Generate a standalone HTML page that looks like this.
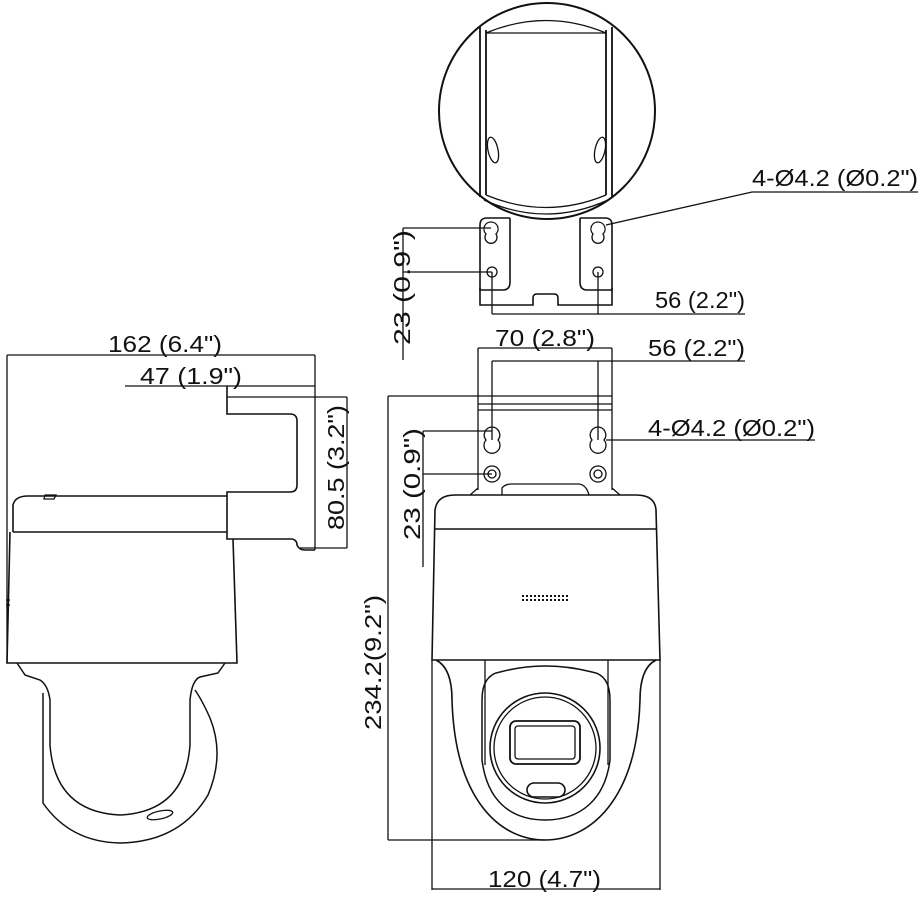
<!DOCTYPE html>
<html><head><meta charset="utf-8"><style>
html,body{margin:0;padding:0;background:#fff;}
svg{display:block;}
text{font-family:"Liberation Sans",sans-serif;font-size:23px;fill:#111;}
</style></head><body>
<svg width="920" height="904" viewBox="0 0 920 904" xmlns="http://www.w3.org/2000/svg">
<g fill="none" stroke="#111" stroke-width="1.3">
<!-- TOP VIEW -->
<circle cx="547" cy="111" r="108" stroke-width="2"/>
<path d="M480 27 V197 M486 30 V195 M606 30 V195 M612 27 V197" stroke-width="1.8"/>
<path d="M486 33 H606 M486 33 Q546 8 606 33 M486 195 Q546 220 606 195 M484 200 Q546 228 608 200"/>
<ellipse cx="493" cy="150" rx="5" ry="13" transform="rotate(-12 493 150)"/>
<ellipse cx="600" cy="150" rx="5" ry="13" transform="rotate(12 600 150)"/>
<path d="M510 218 V282 Q510 290 503 290 H480 V225 Q480 218 487 218 H510" stroke-width="1.6"/>
<path d="M580 218 V282 Q580 290 587 290 H612 V225 Q612 218 605 218 H580" stroke-width="1.6"/>
<path d="M480 288 V305 H533 V298 Q533 294 537 294 H554 Q558 294 558 298 V305 H612 V288" stroke-width="1.6"/>
<path d="M491 222 a7 7 0 0 1 5 12 a6 6 0 1 1 -10 0 a7 7 0 0 1 5 -12 z"/>
<path d="M598 222 a7 7 0 0 1 5 12 a6 6 0 1 1 -10 0 a7 7 0 0 1 5 -12 z"/>
<circle cx="492" cy="272" r="5"/><circle cx="598" cy="272" r="5"/>
<path d="M403 228 V360 M403 228 H491 M403 272 H492 M492 272 V314 M598 272 V314 M492 314 H745"/>
<path d="M606 225 L752 192 H918"/>
<!-- FRONT VIEW -->
<path d="M478 348 H612 M478 348 V490 M612 348 V490 M492 361 H745 M492 361 V440 M598 361 V440"/>
<path d="M388 396 H612 M388 396 V840 M388 840 H545 M478 410 H612 M478 404 H612"/>
<path d="M423 431 V567 M423 431 H492 M423 474 H492 M606 440 H815"/>
<path d="M492 427 a8 8 0 0 1 6 13 a8 8 0 1 1 -12 0 a8 8 0 0 1 6 -13 z"/>
<path d="M598 427 a8 8 0 0 1 6 13 a8 8 0 1 1 -12 0 a8 8 0 0 1 6 -13 z"/>
<circle cx="492" cy="474" r="8"/><circle cx="492" cy="474" r="4"/>
<circle cx="598" cy="474" r="8"/><circle cx="598" cy="474" r="4"/>
<path d="M502 495 V488 Q505 484 512 484 H578 Q586 484 589 495"/>
<path d="M470 495 L478 488 M620 495 L612 488"/>
<path d="M432 660 L435 510 Q437 495 455 495 H636 Q655 495 656 510 L660 660 Z" stroke-width="1.6"/>
<path d="M435 529 H656" stroke-width="1.6"/>
<path d="M436 660 Q452 668 452 700 C455 800 500 840 545 840 C590 840 637 800 640 700 Q640 668 656 660" stroke-width="1.6"/>
<path d="M485 660 V765 M608 660 V765"/>
<path d="M482 700 Q482 675 500 672 Q545 660 592 672 Q610 675 610 700 V760 C605 800 580 820 545 820 C510 820 487 800 482 760 Z" stroke-width="1.5"/>
<circle cx="545" cy="748" r="55" stroke-width="1.6"/>
<circle cx="545" cy="748" r="51"/>
<rect x="510" y="721" width="70" height="43" rx="6" stroke-width="1.8"/>
<rect x="515" y="726" width="60" height="33" rx="3"/>
<rect x="527" y="783" width="38" height="14" rx="7" stroke-width="1.6"/>
<path d="M432 660 V890 M660 660 V890 M432 889 H660"/>
<!-- SIDE VIEW -->
<path d="M7 355 H315 M7 355 V663 M315 355 V550 M125 386 H315"/>
<path d="M227 397 H347 M347 397 V548 M300 548 H347"/>
<path d="M227 386 V414 H290 Q297 414 297 421 V485 Q297 492 290 492 H227 V539 H233" stroke-width="1.6"/>
<path d="M233 539 H292 Q297 540 297 545 Q299 550 305 550 H315" stroke-width="1.6"/>
<path d="M13 532 V505 Q15 496 28 496 H227 M13 532 H227" stroke-width="1.6"/>
<path d="M45 495 L56 495 L54 499 L44 499 Z"/>
<path d="M10 532 L7 663 H237 L233 539" stroke-width="1.6"/>
<path d="M6 600 H10 M6 605 H10"/>
<path d="M17 663 L25 675 L40 680 Q48 685 50 700 V745 Q55 812 120 815 Q185 812 190 745 V700 Q192 680 200 677 L218 673 L225 663" stroke-width="1.5"/>
<path d="M43 693 V803 Q70 842 120 843 Q180 842 208 795 Q225 755 210 718 Q202 700 195 690" stroke-width="1.5"/>
<ellipse cx="160" cy="815" rx="13" ry="4" transform="rotate(-12 160 815)"/>
</g>
<!-- speaker dots -->
<g stroke="#111" stroke-width="2" stroke-dasharray="2 2">
<path d="M522 596 H568 M522 600 H568"/>
</g>
<!-- TEXT -->
<text x="752" y="186" textLength="166" lengthAdjust="spacingAndGlyphs">4-Ø4.2 (Ø0.2")</text>
<text x="655" y="308" textLength="90" lengthAdjust="spacingAndGlyphs">56 (2.2")</text>
<text transform="translate(410 345) rotate(-90)" textLength="115" lengthAdjust="spacingAndGlyphs">23 (0.9")</text>
<text x="108" y="352" textLength="114" lengthAdjust="spacingAndGlyphs">162 (6.4")</text>
<text x="140" y="384" textLength="102" lengthAdjust="spacingAndGlyphs">47 (1.9")</text>
<text transform="translate(344 530) rotate(-90)" textLength="125" lengthAdjust="spacingAndGlyphs">80.5 (3.2")</text>
<text x="495" y="346" textLength="100" lengthAdjust="spacingAndGlyphs">70 (2.8")</text>
<text x="648" y="356" textLength="97" lengthAdjust="spacingAndGlyphs">56 (2.2")</text>
<text x="648" y="436" textLength="167" lengthAdjust="spacingAndGlyphs">4-Ø4.2 (Ø0.2")</text>
<text transform="translate(420 540) rotate(-90)" textLength="112" lengthAdjust="spacingAndGlyphs">23 (0.9")</text>
<text transform="translate(381 730) rotate(-90)" textLength="135" lengthAdjust="spacingAndGlyphs">234.2(9.2")</text>
<text x="488" y="887" textLength="113" lengthAdjust="spacingAndGlyphs">120 (4.7")</text>
</svg>
</body></html>
